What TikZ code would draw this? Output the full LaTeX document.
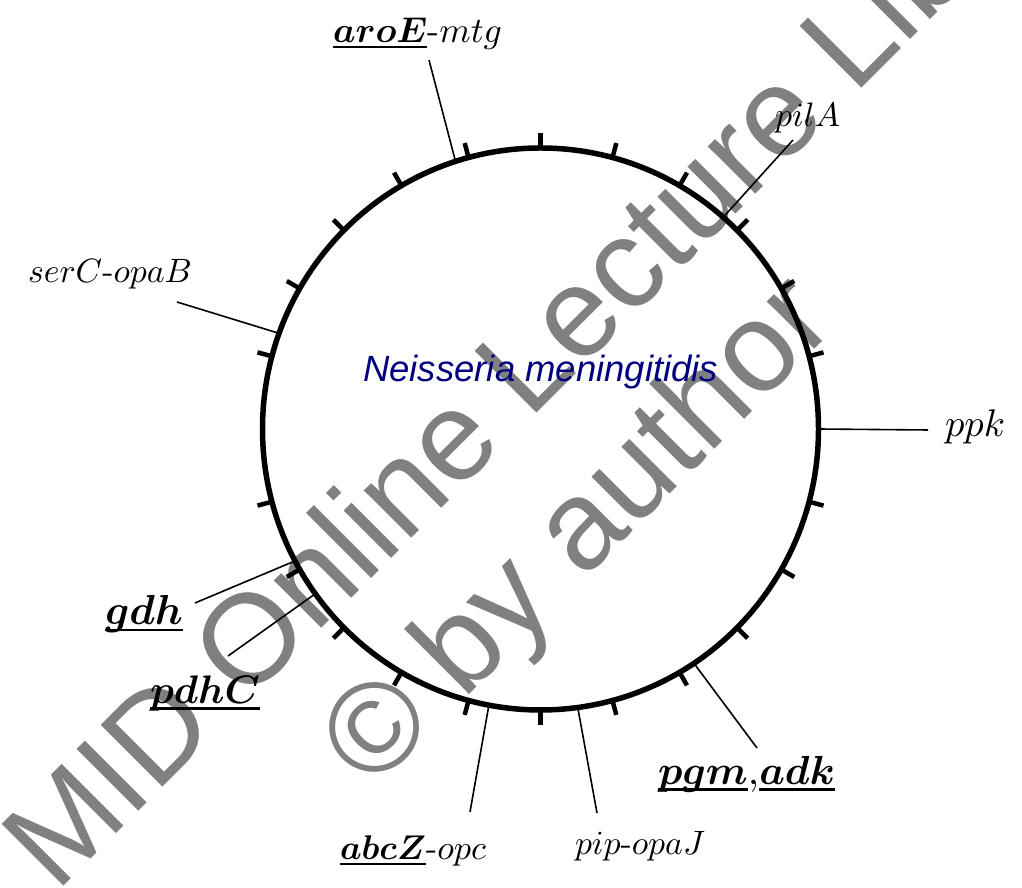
\documentclass[tikz,border=0pt]{standalone}
\usepackage{fontspec}
\usepackage{bm}
\usepackage{graphicx}
\newfontfamily\wmfont{Liberation Sans}
\definecolor{navyblue}{RGB}{0,0,128}
\definecolor{wmgray}{RGB}{128,128,128}
\newcommand{\ulin}[1]{\setbox0\hbox{#1}\rlap{\rule[-0.14em]{\wd0}{0.055em}}\box0}
\begin{document}
\begin{tikzpicture}[x=1pt,y=1pt,
  lab/.style={anchor=base west, inner sep=0pt, outer sep=0pt, font=\fontsize{10}{12}\selectfont},
  wm/.style={anchor=base west, inner sep=0pt, outer sep=0pt, rotate=45, text=wmgray, font=\wmfont\fontsize{127}{130}\selectfont},
  ring/.style={line width=5.5pt},
  tickmark/.style={line width=4.5pt},
  conn/.style={line width=1.6pt}]
\useasboundingbox (0,0) rectangle (1022,888);
\clip (0,0) rectangle (1022,888);
% watermark
\node[wm] (wm1) at (56,-6) {MID Online Lecture Library};
\node[wm] (wm2) at (372.5,96.5) {© by author};
% chromosome
\coordinate (c) at (540.5,459);
\draw[ring] (c) ellipse [x radius=278pt, y radius=281pt];
\foreach \a in {15,30,...,165,195,210,...,345}
  \draw[tickmark] ([shift={(\a:278pt and 281pt)}]c) -- ([shift={(\a:293pt and 296pt)}]c);
\node[anchor=base west, inner sep=0pt, text=navyblue, font=\wmfont\itshape\fontsize{36.5}{40}\selectfont] (title) at (363,506) {Neisseria meningitidis};
% attachment points
\coordinate (p-aroE) at ([shift={(107.8:278pt and 281pt)}]c);
\coordinate (p-pilA) at ([shift={(48.9:278pt and 281pt)}]c);
\coordinate (p-serC) at ([shift={(160.1:278pt and 281pt)}]c);
\coordinate (p-ppk) at ([shift={(0:278pt and 281pt)}]c);
\coordinate (p-gdh) at ([shift={(208:278pt and 281pt)}]c);
\coordinate (p-pdhC) at ([shift={(215.9:278pt and 281pt)}]c);
\coordinate (p-abcZ) at ([shift={(259.3:278pt and 281pt)}]c);
\coordinate (p-pip) at ([shift={(277.7:278pt and 281pt)}]c);
\coordinate (p-pgm) at ([shift={(303.5:278pt and 281pt)}]c);
% free ends
\coordinate (e-aroE) at (429,828);
\coordinate (e-pilA) at (793,748);
\coordinate (e-serC) at (177,586);
\coordinate (e-ppk) at (928,458);
\coordinate (e-gdh) at (195,285);
\coordinate (e-pdhC) at (228,232);
\coordinate (e-abcZ) at (470,76);
\coordinate (e-pip) at (597,75);
\coordinate (e-pgm) at (757,140);
\foreach \n in {aroE,pilA,serC,ppk,gdh,pdhC,abcZ,pip,pgm}
  \draw[conn] (p-\n) -- (e-\n);
% labels
\node[lab] (l-aroE) at (333,845) {\resizebox{169pt}{!}{\ulin{$\bm{aroE}$}-$mtg$}};
\node[lab] (l-pilA) at (775,761) {\resizebox{65pt}{!}{$pilA$}};
\node[lab] (l-serC) at (28,605) {\resizebox{164pt}{!}{$serC$-$opaB$}};
\node[lab] (l-ppk) at (945,451) {\resizebox{60pt}{!}{$ppk$}};
\node[lab] (l-gdh) at (105,263) {\resizebox{78pt}{!}{\ulin{$\bm{gdh}$}}};
\node[lab] (l-pdhC) at (150,184) {\resizebox{110pt}{!}{\ulin{$\bm{pdhC}$}}};
\node[lab] (l-abcZ) at (340,28) {\resizebox{146pt}{!}{\ulin{$\bm{abcZ}$}-$opc$}};
\node[lab] (l-pip) at (575,33) {\resizebox{130pt}{!}{$pip$-$opaJ$}};
\node[lab] (l-pgm) at (658,103) {\resizebox{177pt}{!}{\ulin{$\bm{pgm}$}$,$\ulin{$\bm{adk}$}}};
\end{tikzpicture}
\end{document}
